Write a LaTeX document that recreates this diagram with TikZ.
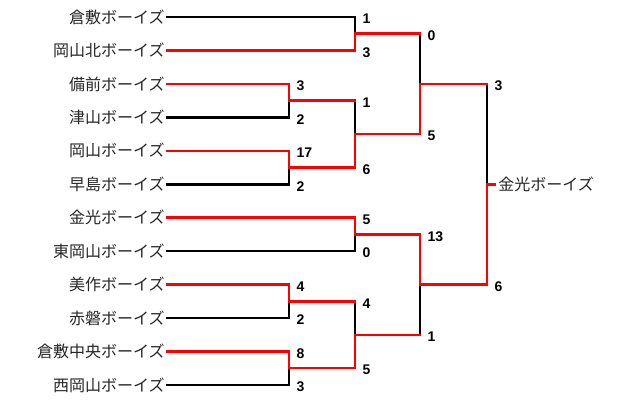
\documentclass[tikz,border=0pt]{standalone}
\usepackage{fontspec}
\setmainfont{Liberation Sans}
\newfontfamily\jafont{Noto Sans CJK JP}

\begin{document}
\begin{tikzpicture}[
        x=0.75pt, y=-0.75pt,
        team/.style={anchor=east, inner sep=1.5pt, text=black!85, font=\jafont\fontsize{12}{14}\selectfont},
        score/.style={anchor=west, inner sep=0pt, xshift=5.5pt, yshift=-1.5pt, font=\bfseries\fontsize{10.5}{12}\selectfont},
        win/.style={red, line width=1.9pt, line cap=rect},
        lose/.style={black, line width=1.9pt, line cap=rect},
        ]
        \useasboundingbox (0,0) rectangle (640,400);

        \foreach \x[count=\xi] in {
            倉敷,
            岡山北,
            備前,
            津山,
            岡山,
            早島,
            金光,
            東岡山,
            美作,
            赤磐,
            倉敷中央,
            西岡山%
        }
        {
            \node (t\xi) at (167,{17+(\xi-1)*33.45}) [team] {\x ボーイズ};
        }

        % joints
        \coordinate (m1) at (289,100.6);
        \coordinate (m2) at (289,167.5);
        \coordinate (m3) at (289,301.3);
        \coordinate (m4) at (289,368.2);
        \coordinate (n1) at (355,33.7);
        \coordinate (n2) at (355,134.1);
        \coordinate (n3) at (355,234.4);
        \coordinate (n4) at (355,334.8);
        \coordinate (s1) at (420,83.9);
        \coordinate (s2) at (420,284.6);
        \coordinate (f) at (487,184.25);

        % from / to / line in / half of the bracket
        \foreach \a / \b / \c / \d in {
            t4/m1/lose/lose, t6/m2/lose/lose, t10/m3/lose/lose, t12/m4/lose/lose, % 1st round
            t1/n1/lose/lose, m1/n2/win/lose, t8/n3/lose/lose, m3/n4/win/lose, % 2nd round
            n1/s1/win/lose, n4/s2/win/lose, s1/f/win/lose, % semi final, final
            t3/m1/win/win, t5/m2/win/win, t9/m3/win/win, t11/m4/win/win,
            t2/n1/win/win, m2/n2/win/win, t7/n3/win/win, m4/n4/win/win,
            n2/s1/win/win, n3/s2/win/win, s2/f/win/win%
        }
        {
            \draw [\d] (\a.east -| \b) -- (\b);
            \draw [\c] (\a.east) -- (\a.east -| \b);
        }

        \node (champ) at (496,184.25) [team, anchor=west] {金光ボーイズ};
        \draw [win, line cap=butt] (f) -- (champ.west);

        \foreach \j / \t / \s[count=\k] in {
            m1/t3/3, m1/t4/2, m2/t5/17, m2/t6/2,
            m3/t9/4, m3/t10/2, m4/t11/8, m4/t12/3,
            n1/t1/1, n1/t2/3, n2/m1/1, n2/m2/6,
            n3/t7/5, n3/t8/0, n4/m3/4, n4/m4/5,
            s1/n1/0, s1/n2/5, s2/n3/13, s2/n4/1,
            f/s1/3, f/s2/6%
        }
        {
            \node (sc\k) at (\j |- \t) [score] {\s};
        }
    \end{tikzpicture}
\end{document}
